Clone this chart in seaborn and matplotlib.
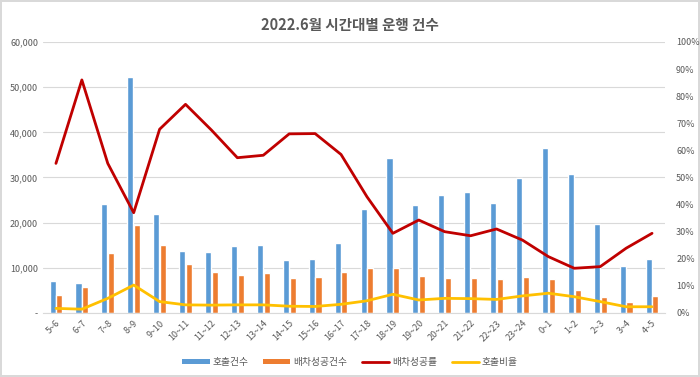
import matplotlib
matplotlib.use("Agg")
import matplotlib.pyplot as plt
import seaborn as sns
import pandas as pd
import numpy as np
from matplotlib.ticker import FuncFormatter, MultipleLocator
from matplotlib.lines import Line2D
from matplotlib.patches import Patch

hours = ["5~6", "6~7", "7~8", "8~9", "9~10", "10~11", "11~12", "12~13", "13~14",
         "14~15", "15~16", "16~17", "17~18", "18~19", "19~20", "20~21", "21~22",
         "22~23", "23~24", "0~1", "1~2", "2~3", "3~4", "4~5"]
calls = [7150, 6700, 24130, 52300, 21920, 13800, 13500, 14760, 15060, 11800, 11960,
         15570, 22950, 34320, 23980, 26050, 26720, 24280, 29960, 36600, 30700, 19640,
         10400, 12030]
dispatched = [3990, 5760, 13350, 19480, 14980, 10780, 9000, 8490, 8790, 7820, 7970,
              9080, 9960, 10040, 8270, 7820, 7680, 7530, 7900, 7530, 5090, 3470,
              2510, 3690]
success_rate = [55.2, 86.0, 55.2, 37.0, 67.8, 77.0, 67.5, 57.3, 58.2, 66.1, 66.2,
                58.5, 42.9, 29.4, 34.3, 30.0, 28.5, 31.0, 26.9, 20.8, 16.5, 17.1,
                23.9, 29.4]
call_ratio = [1.7, 1.4, 5.4, 10.3, 4.2, 3.0, 2.9, 3.0, 3.0, 2.5, 2.4, 3.2, 4.5, 6.9,
              4.8, 5.4, 5.3, 5.0, 6.3, 7.3, 6.0, 4.2, 2.3, 2.3]

title = "2022.6월 시간대별 운행 건수"
series_names = ["호출건수", "배차성공건수", "배차성공률", "호출비율"]
colors = ["#5B9BD5", "#ED7D31", "#C00000", "#FFC000"]

sns.set_style("white")
plt.rcParams["font.family"] = ["Noto Sans CJK KR", "DejaVu Sans"]

txt = "#595959"
fig = plt.figure(figsize=(7, 3.77), dpi=100, edgecolor="#d9d9d9", linewidth=1.5)
ax = fig.add_axes([0.0614, 0.1698, 0.8886, 0.7188])

bars = pd.DataFrame({
    "hour": hours * 2,
    "value": calls + dispatched,
    "series": [series_names[0]] * len(hours) + [series_names[1]] * len(hours),
})
sns.barplot(data=bars, x="hour", y="value", hue="series", order=hours,
            hue_order=series_names[:2], palette=colors[:2], width=0.52, gap=0.1,
            ax=ax, legend=False, saturation=1)

ax.set_ylim(0, 60000)
ax.set_xlim(-0.5, len(hours) - 0.5)
ax.yaxis.set_major_locator(MultipleLocator(10000))
ax.yaxis.set_major_formatter(FuncFormatter(lambda v, p: "-" if v == 0 else f"{int(v):,}"))
ax.grid(axis="y", color="#d9d9d9", linewidth=0.8)
ax.set_axisbelow(True)
for s in ["top", "right", "left"]:
    ax.spines[s].set_visible(False)
ax.spines["bottom"].set_color("#d9d9d9")
ax.set_xlabel("")
ax.set_ylabel("")
ax.tick_params(axis="both", length=0, labelsize=6.5, colors=txt)
ax.tick_params(axis="x", pad=4)
for lab in ax.get_xticklabels():
    lab.set_rotation(45)
    lab.set_ha("right")
    lab.set_rotation_mode("anchor")

ax2 = ax.twinx()
lines = pd.DataFrame({"pos": np.arange(len(hours)), "rate": success_rate, "ratio": call_ratio})
sns.lineplot(data=lines, x="pos", y="rate", color=colors[2], linewidth=2, ax=ax2)
sns.lineplot(data=lines, x="pos", y="ratio", color=colors[3], linewidth=2, ax=ax2)
ax2.set_ylim(0, 100)
ax2.set_xlim(-0.5, len(hours) - 0.5)
ax2.yaxis.set_major_locator(MultipleLocator(10))
ax2.yaxis.set_major_formatter(FuncFormatter(lambda v, p: f"{int(v)}%"))
for s in ["top", "right", "left", "bottom"]:
    ax2.spines[s].set_visible(False)
ax2.set_xlabel("")
ax2.set_ylabel("")
ax2.tick_params(axis="y", length=0, labelsize=6.5, colors=txt, pad=8)

fig.text(0.5, 0.935, title, ha="center", va="center", fontsize=10.5,
         fontweight="bold", color=txt)

handles = [
    Patch(facecolor=colors[0], edgecolor="none"),
    Patch(facecolor=colors[1], edgecolor="none"),
    Line2D([], [], color=colors[2], linewidth=2),
    Line2D([], [], color=colors[3], linewidth=2),
]
fig.legend(handles, series_names, loc="center", bbox_to_anchor=(0.5, 0.04), ncol=4,
           frameon=False, fontsize=7, labelcolor=txt, handlelength=2.8,
           handleheight=0.35, columnspacing=1.5, handletextpad=0.3)

fig.savefig("out.png", dpi=100, edgecolor=fig.get_edgecolor())
